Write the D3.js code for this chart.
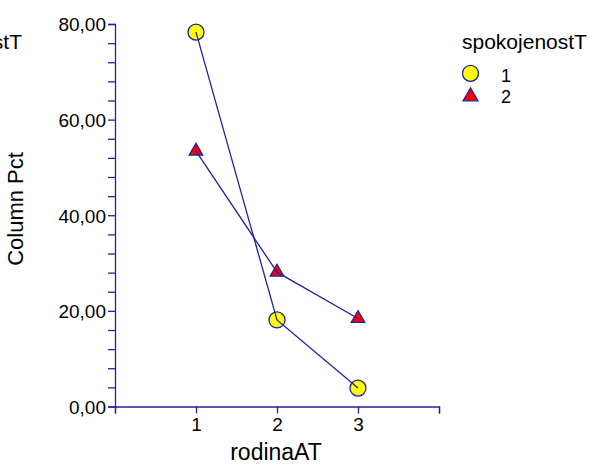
<!DOCTYPE html>
<html><head><meta charset="utf-8">
<script src="https://cdn.jsdelivr.net/npm/d3@7"></script>
<style>body{margin:0;background:#fff}svg{display:block}text{font-family:"Liberation Sans",Arial,sans-serif;fill:#000}</style>
</head><body><svg id="c" width="594" height="466"></svg>
<script>
const categories = [1, 2, 3];
const seriesNames = ["1", "2"];
const series1 = [78.3, 18.1, 3.85];
const series2 = [53.4, 28.1, 18.4];
const yTicks = [0, 20, 40, 60, 80];
const xTicks = [1, 2, 3];

const svg = d3.select("#c");
const navy = "#22229a";
const x = d3.scaleLinear().domain([0, 4]).range([115, 439]);
const y = d3.scaleLinear().domain([0, 80]).range([406.5, 24]);
const fmt = v => d3.format(".2f")(v).replace(".", ",");

// Y axis
const yAx = svg.append("g").attr("transform", "translate(115,0)")
  .call(d3.axisLeft(y).tickValues(d3.range(0, 81, 4)).tickSize(7).tickFormat(v => yTicks.includes(v) ? fmt(v) : ""));
// X axis
const xAx = svg.append("g").attr("transform", "translate(0,406.5)")
  .call(d3.axisBottom(x).tickValues([0, ...xTicks, 4]).tickSize(7).tickFormat(v => xTicks.includes(v) ? v : ""));
[yAx, xAx].forEach(g => {
  g.select(".domain").attr("stroke", navy).attr("stroke-width", 1.3);
  g.selectAll(".tick line").attr("stroke", navy).attr("stroke-width", 1.3);
  g.selectAll(".tick text").attr("font-size", 19).attr("fill", "#000").style("font-family", '"Liberation Sans",Arial,sans-serif');
});
yAx.selectAll(".tick text").attr("x", -9).attr("dy", "0.36em");
xAx.selectAll(".tick text").attr("y", 11);

// Titles
svg.append("text").attr("x", 276).attr("y", 460).attr("text-anchor", "middle").attr("font-size", 23).text("rodinaAT");
svg.append("text").attr("transform", "translate(23,209) rotate(-90)").attr("text-anchor", "middle").attr("font-size", 22).text("Column Pct");
svg.append("text").attr("x", 22).attr("y", 49).attr("text-anchor", "end").attr("font-size", 21).text("spokojenostT");

const data = [series1, series2];
const tri = d3.symbol().type(d3.symbolTriangle).size(80);

// markers
data.forEach((s, i) => {
  const g = svg.append("g");
  s.forEach((v, j) => {
    if (i === 0) {
      g.append("circle").attr("cx", x(categories[j])).attr("cy", y(v)).attr("r", 8)
        .attr("fill", "#ffff00").attr("stroke", navy).attr("stroke-width", 1.3);
    } else {
      g.append("path").attr("d", tri).attr("transform", `translate(${x(categories[j])},${y(v)})`)
        .attr("fill", "#ff0000").attr("stroke", navy).attr("stroke-width", 1.3);
    }
  });
});
// lines
const line = d3.line().x((d, j) => x(categories[j])).y(d => y(d));
data.forEach(s => {
  svg.append("path").attr("d", line(s)).attr("fill", "none").attr("stroke", navy).attr("stroke-width", 1.3);
});

// Legend
svg.append("text").attr("x", 462).attr("y", 49).attr("font-size", 21).text("spokojenostT");
svg.append("circle").attr("cx", 470.5).attr("cy", 73.3).attr("r", 8).attr("fill", "#ffff00").attr("stroke", navy).attr("stroke-width", 1.3);
svg.append("path").attr("d", d3.symbol().type(d3.symbolTriangle).size(95)).attr("transform", "translate(470.5,96.5)").attr("fill", "#ff0000").attr("stroke", navy).attr("stroke-width", 1.3);
svg.append("text").attr("x", 501).attr("y", 81.5).attr("font-size", 18).text(seriesNames[0]);
svg.append("text").attr("x", 501).attr("y", 103).attr("font-size", 18).text(seriesNames[1]);
</script></body></html>
